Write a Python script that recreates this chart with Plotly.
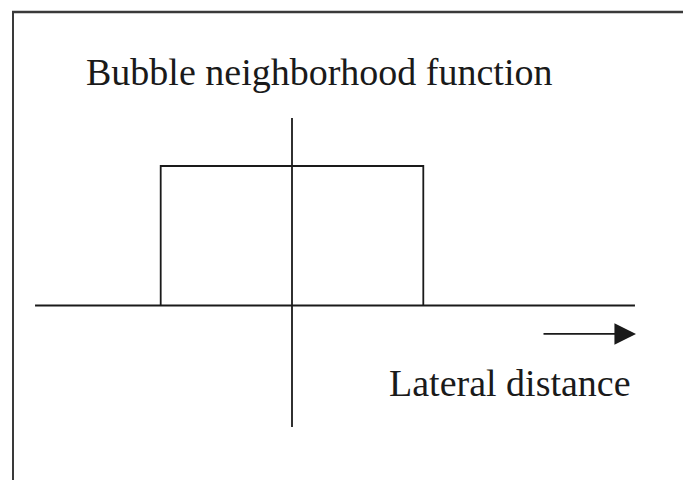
import plotly.graph_objects as go

# Diagram data (units: bubble half-width = 1, bubble height = 1)
bubble_x = [-1, -1, 1, 1]
bubble_y = [0, 1, 1, 0]
haxis_x = [-1.957, 2.612]
haxis_y = [0, 0]
vaxis_x = [0, 0]
vaxis_y = [-0.871, 1.344]
arrow_x = [1.904, 2.62]
arrow_y = [-0.204, -0.204]
title_text = "Bubble neighborhood function"
xlabel_text = "Lateral distance"

W, H = 683, 480
x0px, y0px = 292, 305.5
sx, sy = 131.3, 139.5

fig = go.Figure()
line = dict(color="#1a1a1a", width=1.8)
fig.add_trace(go.Scatter(x=haxis_x, y=haxis_y, mode="lines", line=line, hoverinfo="skip"))
fig.add_trace(go.Scatter(x=vaxis_x, y=vaxis_y, mode="lines", line=line, hoverinfo="skip"))
fig.add_trace(go.Scatter(x=bubble_x, y=bubble_y, mode="lines", line=line, hoverinfo="skip"))

fig.add_annotation(x=arrow_x[1], y=arrow_y[1], ax=arrow_x[0], ay=arrow_y[0],
                   xref="x", yref="y", axref="x", ayref="y", text="",
                   showarrow=True, arrowhead=2, arrowsize=2.4, arrowwidth=1.8,
                   arrowcolor="#1a1a1a")

font = dict(family="Liberation Serif, Times New Roman, serif", size=38, color="#1a1a1a")
fig.add_annotation(x=85 / W, y=1 - 72 / H, xref="paper", yref="paper", text=title_text,
                   showarrow=False, xanchor="left", yanchor="middle", font=font, borderpad=0)
fig.add_annotation(x=632 / W, y=1 - 383 / H, xref="paper", yref="paper", text=xlabel_text,
                   showarrow=False, xanchor="right", yanchor="middle", font=font, borderpad=0)

# outer frame (top and left edges)
fig.add_shape(type="line", xref="paper", yref="paper", x0=12 / W, x1=1, y0=1 - 12 / H, y1=1 - 12 / H,
              line=dict(color="#3a3a3a", width=2.5))
fig.add_shape(type="line", xref="paper", yref="paper", x0=13 / W, x1=13 / W, y0=0, y1=1 - 12 / H,
              line=dict(color="#3a3a3a", width=2))

fig.update_layout(
    width=W, height=H, margin=dict(l=0, r=0, t=0, b=0),
    paper_bgcolor="white", plot_bgcolor="white", showlegend=False,
    xaxis=dict(range=[(0 - x0px) / sx, (W - x0px) / sx], visible=False, fixedrange=True),
    yaxis=dict(range=[(y0px - H) / sy, y0px / sy], visible=False, fixedrange=True),
)
fig.write_html("out.html", post_script="document.body.style.margin='0';",
               config={"displayModeBar": False})
